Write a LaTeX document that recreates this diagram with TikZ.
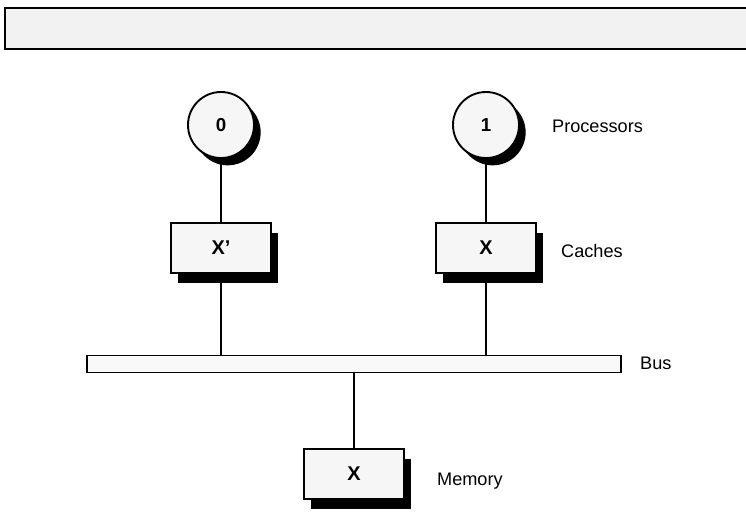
\documentclass[tikz,border=0pt]{standalone}
\usepackage{fontspec}
\setmainfont{Liberation Sans}
\usetikzlibrary{shadows}

\begin{document}
\begin{tikzpicture}[x=0.03cm, y=-0.03cm,
    proc/.style={circle, minimum size=1.98cm, inner sep=0pt, draw=black, line width=1.6pt, fill=gray!7,
        font=\fontsize{16}{18}\selectfont\bfseries,
        drop shadow={shadow xshift=0.2cm, shadow yshift=-0.22cm, fill=black, opacity=1}},
    memblock/.style={rectangle, minimum width=3cm, minimum height=1.5cm, inner sep=0pt, draw=black, line width=1.6pt, fill=gray!7,
        font=\fontsize{17}{19}\selectfont\bfseries,
        drop shadow={shadow xshift=0.21cm, shadow yshift=-0.3cm, fill=black, opacity=1}},
    caption/.style={anchor=base west, font=\fontsize{15.5}{18}\selectfont}]
    \useasboundingbox (0, 0) rectangle (746, 530);
    \draw[line width=1.6pt, fill=gray!10] (5, 8) rectangle (760, 49);

    \node[proc] (proc-0) at (221, 125) {0};
    \node[proc] (proc-1) at (486, 125) {1};
    \node[caption] (proc-label) at (548, 132) {Processors};

    \node[memblock] (cache-0) at (221, 248) {X'};
    \node[memblock] (cache-1) at (486, 248) {X};
    \node[caption] (cache-label) at (557, 257) {Caches};

    \node[rectangle, minimum width=16.02cm, minimum height=0.51cm, draw=black, line width=1.6pt, fill=gray!5] (bus) at (354, 364) {};
    \node[caption] (bus-label) at (636, 369) {Bus};

    \node[memblock] (mem) at (354, 474) {X};
    \node[caption] (mem-label) at (433, 485) {Memory};

    \draw[line width=1.1pt] (proc-0) -- (cache-0);
    \draw[line width=1.1pt] (proc-1) -- (cache-1);
    \draw[line width=1.1pt] (cache-0.south) -- (cache-0.south |- bus.north);
    \draw[line width=1.1pt] (cache-1.south) -- (cache-1.south |- bus.north);
    \draw[line width=1.1pt] (bus) -- (mem);
\end{tikzpicture}
\end{document}
